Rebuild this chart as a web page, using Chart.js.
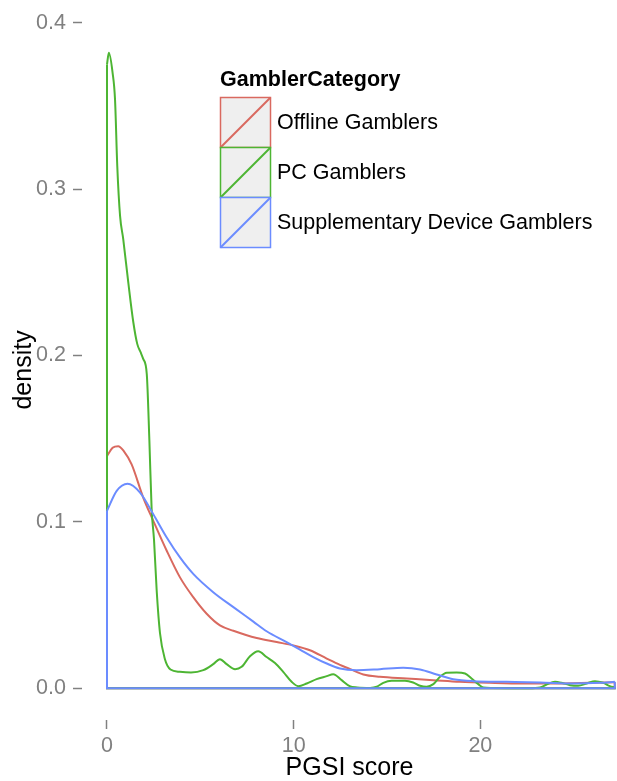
<!DOCTYPE html>
<html>
<head>
<meta charset="utf-8">
<script src="https://cdn.jsdelivr.net/npm/chart.js@4/dist/chart.umd.min.js"></script>
<style>
  html, body { margin: 0; padding: 0; background: #fff; overflow: hidden; }
  canvas { display: block; }
</style>
</head>
<body>
<canvas id="chart" width="617" height="781"></canvas>
<script>
// data
var categories = ["Offline Gamblers", "PC Gamblers", "Supplementary Device Gamblers"];
var legendTitle = "GamblerCategory";
var xTicks = [0, 10, 20];
var yTicks = [0, 0.1, 0.2, 0.3, 0.4];

var offlineX = [0, 0.3, 0.6, 0.9, 1.32, 1.94, 2.48, 3.2, 3.91, 4.62, 5.34, 6.05, 6.77, 8.02, 9.09, 9.98, 10.87, 11.77, 12.48, 13.0, 13.73, 14.62, 16.05, 17.48, 18.9, 20.5, 22.3, 24.1, 25.87, 27.2];
var offlineY = [0.1395, 0.1445, 0.1455, 0.1425, 0.1345, 0.1146, 0.1006, 0.0826, 0.0666, 0.0547, 0.0447, 0.0377, 0.0345, 0.0301, 0.0277, 0.0257, 0.0228, 0.0178, 0.014, 0.0116, 0.0082, 0.0068, 0.0058, 0.0048, 0.0038, 0.0032, 0.0028, 0.0028, 0.0032, 0.0036];

var pcX = [0, 0.1, 0.3, 0.43, 0.55, 0.7, 0.87, 1.14, 1.41, 1.62, 1.8, 1.94, 2.13, 2.27, 2.39, 2.52, 2.66, 2.84, 3.1, 3.4, 3.9, 4.5, 5.16, 5.69, 6.05, 6.41, 6.86, 7.21, 7.66, 8.1, 8.55, 9.0, 9.44, 9.89, 10.25, 10.7, 11.23, 11.77, 12.12, 12.57, 13.0, 13.4, 14.1, 14.45, 14.8, 15.25, 15.96, 16.4, 16.77, 17.12, 17.48, 17.84, 18.2, 18.73, 19.18, 19.53, 19.89, 20.16, 20.6, 21.6, 22.6, 23.2, 23.55, 24.0, 24.35, 24.8, 25.24, 25.7, 26.14, 26.58, 26.94, 27.2];
var pcY = [0.375, 0.382, 0.37, 0.354, 0.314, 0.284, 0.27, 0.244, 0.22, 0.207, 0.202, 0.198, 0.189, 0.149, 0.108, 0.089, 0.059, 0.033, 0.0175, 0.0112, 0.0098, 0.0094, 0.0108, 0.0144, 0.0174, 0.0144, 0.0114, 0.0128, 0.0192, 0.0222, 0.0187, 0.0151, 0.0098, 0.0038, 0.0012, 0.0028, 0.0054, 0.0072, 0.0084, 0.0048, 0.0012, 0.0004, 0.0001, 0.0008, 0.0032, 0.0044, 0.0044, 0.0034, 0.0014, 0.0008, 0.0024, 0.0068, 0.0092, 0.0094, 0.0088, 0.0058, 0.0024, 0.0004, 0.0001, 0, 0, 0.0004, 0.0022, 0.0038, 0.0032, 0.0018, 0.0014, 0.0028, 0.0042, 0.0032, 0.0012, 0.0004];

var suppX = [0, 0.52, 1.1, 1.77, 2.48, 3.2, 3.91, 4.62, 5.69, 6.77, 7.84, 8.55, 9.62, 10.34, 11.05, 11.77, 12.48, 13.37, 14.62, 15.87, 16.77, 17.66, 18.55, 19.62, 21.4, 23.2, 24.97, 26.4, 27.2];
var suppY = [0.1066, 0.1186, 0.1229, 0.1176, 0.1046, 0.0906, 0.0786, 0.0687, 0.0577, 0.0487, 0.040, 0.0342, 0.0277, 0.0232, 0.0187, 0.0148, 0.0118, 0.0108, 0.0114, 0.0122, 0.0112, 0.0082, 0.0054, 0.0042, 0.0038, 0.0034, 0.0028, 0.0032, 0.0038];

var colors = ["#D9695F", "#4DB533", "#6B8CFF"];
var FONT = '"Liberation Sans", Arial, Helvetica, sans-serif';

function points(xs, ys){
    var out = [];
    xs.forEach(function(x, i){ out.push({x: x, y: ys[i]}); });
    return out;
}

// closing edges of the density polygon: left side, baseline, right side
function outline(xs, ys){
    var n = xs.length - 1;
    return [{x: xs[0], y: ys[0]}, {x: xs[0], y: 0}, {x: xs[n], y: 0}, {x: xs[n], y: ys[n]}];
}

function makeSets(xs, ys, color, order){
    return [{
        data: points(xs, ys), borderColor: color, borderWidth: 2,
        cubicInterpolationMode: 'monotone', pointRadius: 0, fill: false, order: order
    }, {
        data: outline(xs, ys), borderColor: color, borderWidth: 2,
        tension: 0, pointRadius: 0, fill: false, order: order
    }];
}

var insideLegend = {
    id: 'insideLegend',
    afterDraw: function(chart){
        var ctx = chart.ctx;
        ctx.save();
        ctx.fillStyle = '#000';
        ctx.textAlign = 'left';
        ctx.textBaseline = 'alphabetic';
        ctx.font = 'bold 21.5px ' + FONT;
        ctx.fillText(legendTitle, 220, 86);
        categories.forEach(function(name, i){
            var left = 220.5, top = 97.5 + i * 50, size = 50;
            ctx.fillStyle = '#efefef';
            ctx.fillRect(left, top, size, size);
            ctx.strokeStyle = colors[i];
            ctx.lineWidth = 1.5;
            ctx.strokeRect(left, top, size, size);
            ctx.lineWidth = 2;
            ctx.beginPath();
            ctx.moveTo(left, top + size);
            ctx.lineTo(left + size, top);
            ctx.stroke();
            ctx.fillStyle = '#000';
            ctx.font = '21.5px ' + FONT;
            ctx.textBaseline = 'middle';
            ctx.fillText(name, 277, top + size / 2 + 1);
        });
        ctx.restore();
    }
};

window.onload = function(){
    var datasets = []
        .concat(makeSets(offlineX, offlineY, colors[0], 3))
        .concat(makeSets(pcX, pcY, colors[1], 2))
        .concat(makeSets(suppX, suppY, colors[2], 1));

    var ctx = document.getElementById("chart").getContext("2d");
    new Chart(ctx, {
        type: 'line',
        data: {datasets: datasets},
        plugins: [insideLegend],
        options: {
            responsive: false,
            animation: false,
            devicePixelRatio: 1,
            layout: {padding: {top: 17, right: 0, left: 0, bottom: 0}},
            plugins: {legend: {display: false}, tooltip: {enabled: false}},
            scales: {
                x: {
                    type: 'linear',
                    min: -1.339,
                    max: 27.32,
                    afterBuildTicks: function(s){ s.ticks = xTicks.map(function(v){ return {value: v}; }); },
                    afterFit: function(s){ s.height = 61; },
                    ticks: {
                        autoSkip: false, maxRotation: 0, padding: 4, color: '#808080',
                        font: {family: FONT, size: 21.5},
                        callback: function(v){ return String(v); }
                    },
                    grid: {drawOnChartArea: false, drawTicks: true, tickLength: 9, tickColor: '#808080', tickWidth: 1.5},
                    border: {display: false},
                    title: {display: true, text: 'PGSI score', color: '#000',
                        font: {family: FONT, size: 25, lineHeight: 1.0}, padding: {top: 0, bottom: 0}}
                },
                y: {
                    type: 'linear',
                    min: -0.01916,
                    max: 0.4018,
                    afterBuildTicks: function(s){ s.ticks = yTicks.map(function(v){ return {value: v}; }); },
                    afterFit: function(s){ s.width = 82; },
                    ticks: {
                        autoSkip: false, padding: 7, color: '#808080',
                        font: {family: FONT, size: 21.5},
                        callback: function(v){ return Number(v).toFixed(1); }
                    },
                    grid: {drawOnChartArea: false, drawTicks: true, tickLength: 9, tickColor: '#808080', tickWidth: 1.5},
                    border: {display: false},
                    title: {display: true, text: 'density', color: '#000',
                        font: {family: FONT, size: 25, lineHeight: 1.0}, padding: {top: 12, bottom: 0}}
                }
            }
        }
    });
};
</script>
</body>
</html>
